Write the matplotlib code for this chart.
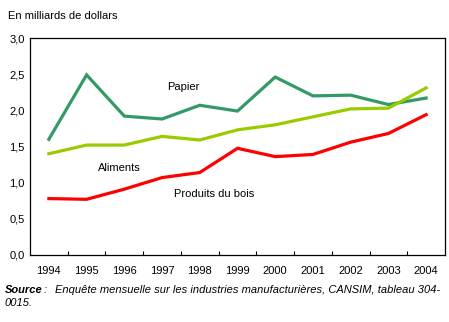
import matplotlib
matplotlib.use("Agg")
import matplotlib.pyplot as plt
from matplotlib.ticker import FixedLocator, FuncFormatter

years = ["1994", "1995", "1996", "1997", "1998", "1999", "2000", "2001", "2002", "2003", "2004"]
papier = [1.60, 2.49, 1.92, 1.88, 2.07, 1.99, 2.46, 2.20, 2.21, 2.08, 2.17]
aliments = [1.40, 1.52, 1.52, 1.64, 1.59, 1.73, 1.80, 1.91, 2.02, 2.03, 2.31]
bois = [0.78, 0.77, 0.91, 1.07, 1.14, 1.475, 1.36, 1.39, 1.56, 1.68, 1.94]

plt.rcParams['font.family'] = ['Liberation Sans', 'DejaVu Sans']

fig = plt.figure(figsize=(4.49, 3.22), dpi=100)
W, H = 449, 322
ax = fig.add_axes([30 / W, 1 - 255 / H, 415 / W, 217 / H])

x = list(range(len(years)))
ax.plot(x, papier, color="#339966", lw=2.3, solid_joinstyle="miter")
ax.plot(x, aliments, color="#99CC00", lw=2.3, solid_joinstyle="miter")
ax.plot(x, bois, color="#FF0000", lw=2.3, solid_joinstyle="miter")

ax.set_xlim(-0.5, len(years) - 0.5)
ax.set_ylim(0, 3.0)
ax.set_yticks([0, 0.5, 1.0, 1.5, 2.0, 2.5, 3.0])
ax.yaxis.set_major_formatter(FuncFormatter(lambda v, p: f"{v:.1f}".replace(".", ",")))
ax.tick_params(axis="y", length=0, labelsize=8, pad=4)

ax.xaxis.set_major_locator(FixedLocator(x))
ax.set_xticklabels(years)
ax.xaxis.set_minor_locator(FixedLocator([i + 0.5 for i in range(len(years) - 1)]))
ax.tick_params(axis="x", which="major", length=0, labelsize=8, pad=8)
ax.tick_params(axis="x", which="minor", direction="in", length=3, width=0.8)

for s in ax.spines.values():
    s.set_linewidth(0.9)
    s.set_color("black")

ax.text(3.56, 2.32, "Papier", fontsize=8, ha="center", va="center")
ax.text(1.86, 1.20, "Aliments", fontsize=8, ha="center", va="center")
ax.text(4.38, 0.84, "Produits du bois", fontsize=8, ha="center", va="center")

fig.text(8 / W, 1 - 16 / H, "En milliards de dollars", fontsize=8, ha="left", va="center")
fig.text(5 / W, 1 - 290 / H, "Source", fontsize=8, ha="left", va="center",
         style="italic", weight="bold")
fig.text(44 / W, 1 - 290 / H, ":", fontsize=8, ha="left", va="center", style="italic")
fig.text(55 / W, 1 - 290 / H,
         "Enquête mensuelle sur les industries manufacturières, CANSIM, tableau 304-",
         fontsize=8, ha="left", va="center", style="italic")
fig.text(5 / W, 1 - 303 / H, "0015.", fontsize=8, ha="left", va="center", style="italic")

fig.savefig("out.png", dpi=100)
